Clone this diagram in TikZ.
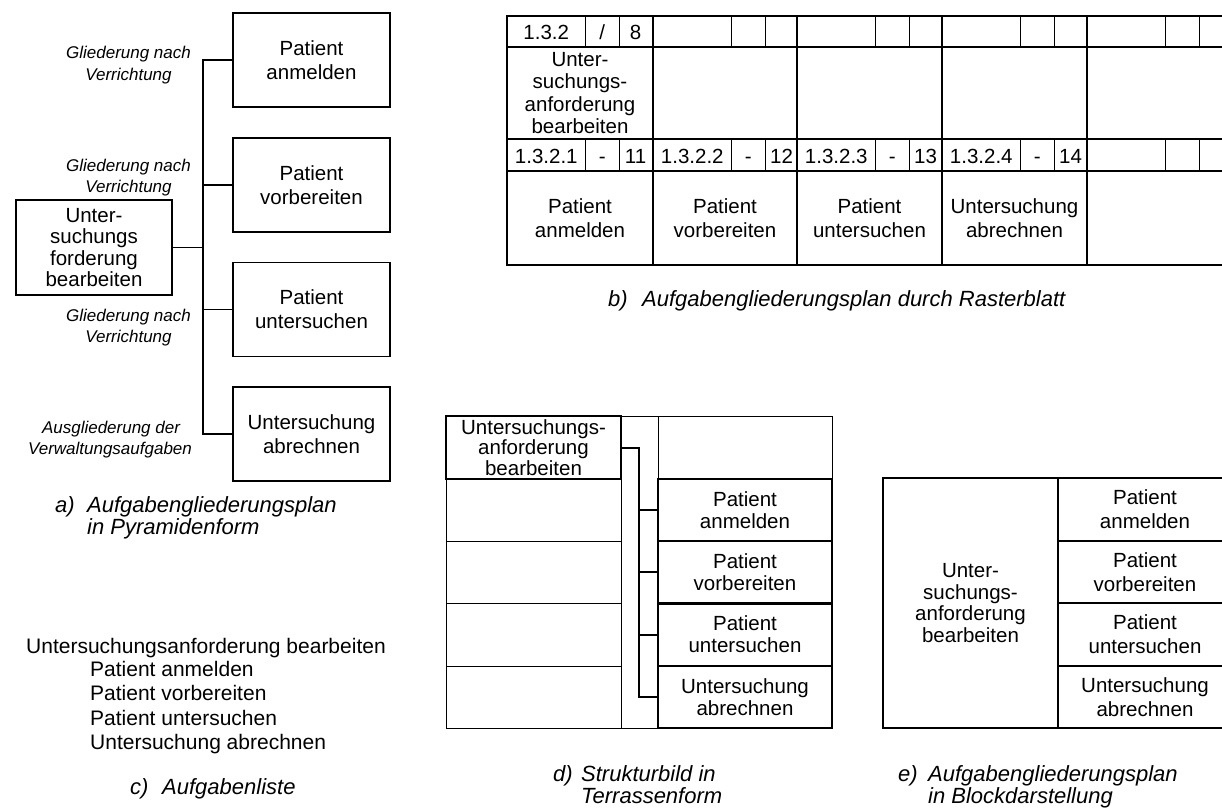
\documentclass[tikz,border=0pt]{standalone}
\usepackage{fontspec}
\setmainfont{Liberation Sans}
\begin{document}
\begin{tikzpicture}[x=1pt,y=-1pt,
  hair/.style={line width=1pt},
  heavy/.style={line width=2.4pt},
  body/.style={font=\fontsize{20.5}{24}\selectfont, align=center, inner sep=0pt},
  tline/.style={font=\fontsize{20.5}{24}\selectfont, inner sep=0pt, anchor=base},
  lbl/.style={font=\fontsize{17}{21}\selectfont\itshape, inner sep=0pt, anchor=base},
  capt/.style={font=\fontsize{22}{22}\selectfont\itshape, inner sep=0pt, anchor=base west},
  lst/.style={font=\fontsize{21}{24}\selectfont, inner sep=0pt, anchor=base west},
  abox/.style={draw, line width=1.3pt, minimum width=157pt, minimum height=94pt, body},
  alink/.style={line width=1.3pt},
  dbox/.style={draw, heavy, minimum width=174pt, minimum height=62.3pt, body, font=\fontsize{20.5}{22}\selectfont},
  dlink/.style={line width=2pt},
  ecell/.style={draw, heavy, minimum width=174pt, minimum height=62.5pt, body}]
\useasboundingbox (0,0) rectangle (1222,807);
\clip (0,0) rectangle (1222,807);

% ---------- a) pyramid form ----------
\node[abox] (pa1) at (311.5,60) {Patient\\anmelden};
\node[abox] (pa2) at (311.5,185) {Patient\\vorbereiten};
\node[abox] (pa3) at (311.5,309.5) {Patient\\untersuchen};
\node[abox] (pa4) at (311.5,434) {Untersuchung\\abrechnen};
\node[abox, minimum width=156pt, minimum height=95pt, font=\fontsize{20.5}{21.3}\selectfont] (pa0) at (94,247.5) {Unter-\\suchungs\\forderung\\bearbeiten};
\coordinate (bus) at (203,0);
\draw[alink] (pa1.west) -- (pa1.west -| bus) -- (pa4.west -| bus) -- (pa4.west);
\draw[alink] (pa2.west) -- (pa2.west -| bus);
\draw[alink] (pa3.west) -- (pa3.west -| bus);
\draw[alink] (pa0.east) -- (pa0.east -| bus);

\node[lbl] (la1a) at (128.5,58) {Gliederung nach};
\node[lbl] (la1b) at (128.5,80) {Verrichtung};
\node[lbl] (la2a) at (128.5,171) {Gliederung nach};
\node[lbl] (la2b) at (128.5,192) {Verrichtung};
\node[lbl] (la3a) at (128.5,321) {Gliederung nach};
\node[lbl] (la3b) at (128.5,342) {Verrichtung};
\node[lbl] (la4a) at (111,433) {Ausgliederung der};
\node[lbl] (la4b) at (110,454) {Verwaltungsaufgaben};

\node[capt] (capa0) at (55,512) {a)};
\node[capt] (capa1) at (87,512) {Aufgabengliederungsplan};
\node[capt] (capa2) at (87,534) {in Pyramidenform};

% ---------- b) grid sheet ----------
\draw[heavy] (507,16) rectangle (1232,265);
\foreach \xx in {653,797,942,1087} \draw[heavy] (\xx,16) -- (\xx,265);
\foreach \yy in {47,139,171} \draw[heavy] (507,\yy) -- (1232,\yy);
\foreach \xx in {507,653,797,942,1087} {
  \draw[hair] (\xx+78.5,16) -- (\xx+78.5,47);
  \draw[hair] (\xx+112,16) -- (\xx+112,47);
  \draw[hair] (\xx+78.5,139) -- (\xx+78.5,171);
  \draw[hair] (\xx+112,139) -- (\xx+112,171);
}
\node[tline] (b11) at (546.25,39.5) {1.3.2};
\node[tline] (b12) at (602.25,39.5) {/};
\node[tline] (b13) at (635.5,39.5) {8};
\node[body, font=\fontsize{20.5}{22.5}\selectfont] (b2) at (580,93) {Unter-\\suchungs-\\anforderung\\bearbeiten};
\foreach \k/\xx in {1/507,2/653,3/797,4/942} {
  \node[tline] (b3\k a) at (\xx+39.25,163.5) {1.3.2.\k};
  \node[tline] (b3\k b) at (\xx+95.25,163.5) {-};
  \node[tline] (b3\k c) at (\xx+128.5,163.5) {1\k};
}
\node[body] (b41) at (580,218) {Patient\\anmelden};
\node[body] (b42) at (725,218) {Patient\\vorbereiten};
\node[body] (b43) at (869.5,218) {Patient\\untersuchen};
\node[body] (b44) at (1014.5,218) {Untersuchung\\abrechnen};

\node[capt] (capb0) at (608,306) {b)};
\node[capt] (capb1) at (642,306) {Aufgabengliederungsplan durch Rasterblatt};

% ---------- c) task list ----------
\node[lst] (c0) at (26,653) {Untersuchungsanforderung bearbeiten};
\node[lst] (c1) at (90,676) {Patient anmelden};
\node[lst] (c2) at (90,700) {Patient vorbereiten};
\node[lst] (c3) at (90,725) {Patient untersuchen};
\node[lst] (c4) at (90,749) {Untersuchung abrechnen};
\node[capt] (capc0) at (130,794) {c)};
\node[capt] (capc1) at (162,794) {Aufgabenliste};

% ---------- d) terrace form ----------
\draw[hair] (446,479) rectangle (621,728);
\foreach \yy in {541,603,666} \draw[hair] (446,\yy) -- (621,\yy);
\draw[hair] (621,416) -- (832,416) -- (832,479);
\draw[hair] (658,416) -- (658,479);
\draw[hair] (621,728) -- (658,728);
\node[draw, heavy, minimum width=175pt, minimum height=63pt, body, font=\fontsize{20.5}{20.5}\selectfont] (dtop) at (533.5,447.5) {Untersuchungs-\\anforderung\\bearbeiten};
\node[dbox] (d1) at (745,510) {Patient\\anmelden};
\node[dbox] (d2) at (745,572.3) {Patient\\vorbereiten};
\node[dbox] (d3) at (745,634.6) {Patient\\untersuchen};
\node[dbox] (d4) at (745,696.9) {Untersuchung\\abrechnen};
\coordinate (dbus) at (639,0);
\draw[dlink] (dtop.east) -- (dtop.east -| dbus) -- (d4.west -| dbus) -- (d4.west);
\draw[dlink] (d1.west) -- (d1.west -| dbus);
\draw[dlink] (d2.west) -- (d2.west -| dbus);
\draw[dlink] (d3.west) -- (d3.west -| dbus);

\node[capt] (capd0) at (553,781) {d)};
\node[capt] (capd1) at (581,781) {Strukturbild in};
\node[capt] (capd2) at (581,803) {Terrassenform};

% ---------- e) block form ----------
\node[draw, heavy, minimum width=175pt, minimum height=250pt, body, font=\fontsize{20.5}{21.7}\selectfont] (e0) at (970.5,603) {Unter-\\suchungs-\\anforderung\\bearbeiten};
\node[ecell] (e1) at (1145,509.5) {Patient\\anmelden};
\node[ecell] (e2) at (1145,572) {Patient\\vorbereiten};
\node[ecell] (e3) at (1145,634.5) {Patient\\untersuchen};
\node[ecell] (e4) at (1145,697) {Untersuchung\\abrechnen};

\node[capt] (cape0) at (898,781) {e)};
\node[capt] (cape1) at (928,781) {Aufgabengliederungsplan};
\node[capt] (cape2) at (928,803) {in Blockdarstellung};
\end{tikzpicture}
\end{document}
